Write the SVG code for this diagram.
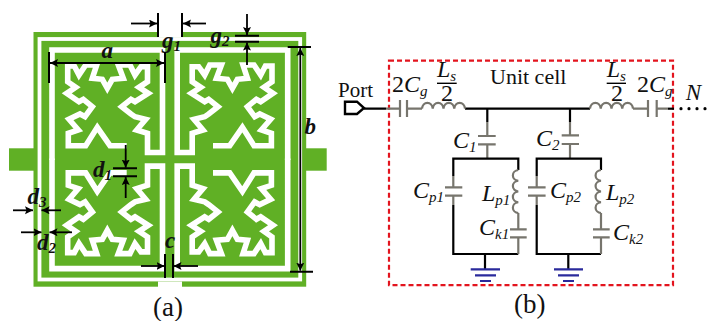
<svg xmlns="http://www.w3.org/2000/svg" xmlns:xlink="http://www.w3.org/1999/xlink" width="712" height="321" viewBox="0 0 712 321">
<style>
.t{font-family:"Liberation Serif","Times New Roman",serif;fill:#111}
.i{font-style:italic}
.bi{font-style:italic;font-weight:bold;font-size:23px;font-family:"Liberation Serif","Times New Roman",serif;fill:#111}
.s{font-size:15px}
.slot{fill:none;stroke:#fff;stroke-width:5.6;stroke-linejoin:miter}
.dim{fill:none;stroke:#000;stroke-width:2}
.arr{fill:none;stroke:#000;stroke-width:1.8;marker-end:url(#ah)}
.k{fill:none;stroke:#000;stroke-width:2.2}
.g{fill:none;stroke:#77756d;stroke-width:2.2}
.gnd{fill:none;stroke:#2a2a9c;stroke-width:2.2}
</style>
<defs>
<marker id="ah" markerUnits="userSpaceOnUse" markerWidth="9" markerHeight="9" refX="8" refY="4" orient="auto-start-reverse"><path d="M0 0L8 4L0 8L1.5 4Z" fill="#000"/></marker>
<path id="cell" class="slot" d="M126.7 145.7L110 145.7L97.3 127.3L85.7 145.7L68.3 145.7L68.3 133.3L78.3 130L69 119.3L80 114L85 116.7L92.3 106.7L83.3 99.3L79 101.7L66.7 93.3L75.7 87.3L67.7 81.7L67.7 66L74.3 66L79 75L85.7 65L96.7 65L92.3 78.3L102.3 79.3L107.3 88.3L112.3 79.3L123.3 78.3L118.3 65L130 65L135 75L141 66.7L147.5 66.7L147.5 81.7L139 87.3L148.3 93.3L135 101.7L131 99.3L121.7 106.7L131 114L135 116.7L145.7 119.3L136.7 130L147.5 133.3L147.5 152.5L162.5 152.5L162.5 50L52 50L52 160"/>
</defs>

<g id="panel-a-board">
<rect x="33.5" y="32" width="272.7" height="254.7" fill="#60b025"/>
<rect x="9" y="148.3" width="25" height="22.4" fill="#60b025"/>
<rect x="306" y="148.3" width="20.7" height="22.4" fill="#60b025"/>
<rect x="158" y="31" width="24" height="6.2" fill="#fff"/>
<rect x="158" y="281.5" width="24" height="6.2" fill="#fff"/>
<rect x="39.5" y="39" width="260.7" height="240.5" fill="none" stroke="#fff" stroke-width="3.8"/>
<use xlink:href="#cell" href="#cell"/>
<use xlink:href="#cell" href="#cell" transform="matrix(-1 0 0 1 339.7 0)"/>
<use xlink:href="#cell" href="#cell" transform="matrix(1 0 0 -1 0 318.6)"/>
<use xlink:href="#cell" href="#cell" transform="matrix(-1 0 0 -1 339.7 318.6)"/>
</g>

<g id="dimensions-a">
<path class="dim" d="M158 13V37M182 13V37"/>
<path class="arr" d="M131 23.5H157"/><path class="arr" d="M206 23.5H183"/>
<text class="bi" x="162" y="48">g<tspan class="s" dy="3">1</tspan></text>
<path class="dim" d="M235 35.7H259M235 41.7H259"/>
<path class="arr" d="M247 14V35"/><path class="arr" d="M247 65V42.5"/>
<text class="bi" x="210.5" y="43">g<tspan class="s" dy="3">2</tspan></text>
<path class="dim" d="M49 52V83M165 52V83"/>
<path class="arr" style="marker-start:url(#ah)" d="M50 63H164"/>
<text class="bi" x="101.5" y="58">a</text>
<path class="dim" d="M287.7 47H311M290 271.7H313"/>
<path class="arr" style="marker-start:url(#ah)" d="M300.3 48V270.7"/>
<text class="bi" x="304.5" y="134">b</text>
<path class="dim" d="M113 168.3H137M113 176.3H137"/>
<path class="arr" d="M125.7 145V167.6"/><path class="arr" d="M125.7 198V177"/>
<text class="bi" x="93" y="177">d<tspan class="s" dy="3">1</tspan></text>
<path class="arr" d="M13 210.3H33"/><path class="arr" d="M61 210.3H41.5"/>
<text class="bi" x="27.5" y="204">d<tspan class="s" dy="3">3</tspan></text>
<path class="arr" d="M21 232.3H41.5"/><path class="arr" d="M72 232.3H49.5"/>
<text class="bi" x="37" y="250">d<tspan class="s" dy="3">2</tspan></text>
<path class="dim" d="M165 254V278M173 254V278"/>
<path class="arr" d="M141 266H164.5"/><path class="arr" d="M198 266H173.5"/>
<text class="bi" x="165" y="247.5">c</text>
</g>
<text id="label-a" class="t" x="153" y="316" font-size="27">(a)</text>

<g id="frame"><rect x="389" y="60.7" width="284" height="224.5" fill="none" stroke="#e3141e" stroke-width="2.2" stroke-dasharray="5 3"/></g>

<g id="connectors">
<path class="k" d="M364 108.7H386M465 108.7H590M487.3 108.7V122M570 108.7V122"/>
<path class="g" d="M386 108.7H400M407 108.7H422M633 108.7H648M656.7 108.7H668"/>
<path class="k" d="M668 108.7H674"/>
<path d="M681 108.7H712" fill="none" stroke="#000" stroke-width="3.2" stroke-linecap="round" stroke-dasharray="0 8"/>
<path class="g" d="M487.3 122V136M487.3 144.3V158.7M570 122V135.3M570 144V158.7"/>
<path class="k" d="M518.3 170V158.7H453.3V176M601 170V158.7H536.7V176"/>
<path class="g" d="M453.3 176V187.3M453.3 195.7V205M536.7 176V187.3M536.7 195.7V205"/>
<path class="k" d="M453.3 205V254H518.3M536.7 205V254H601"/>
<path class="g" d="M518.3 213V229.3M518.3 237.3V254M601 213V229.3M601 237.3V254"/>
<path class="k" d="M485 254V269M568.3 254V269"/>
</g>

<g id="port"><path d="M345 101.7H357L364 108L357 114H345Z" fill="#fff" stroke="#000" stroke-width="2.4"/>
<text class="t" x="338" y="96.7" font-size="21">Port</text></g>

<g id="cg-left"><path class="g" d="M400 100V117M407 100V117"/>
<text class="t" x="392" y="91.7" font-size="24">2<tspan class="i">C</tspan><tspan class="i s" dy="4">g</tspan></text></g>
<g id="ls-left"><path class="g" d="M422 108.7a5.4 6.5 0 0 1 10.75 0a5.4 6.5 0 0 1 10.75 0a5.4 6.5 0 0 1 10.75 0a5.4 6.5 0 0 1 10.75 0"/>
<text class="t i" x="437" y="77" font-size="24">L<tspan class="s" dy="4">s</tspan></text>
<path d="M437 83.3H456.7" stroke="#000" stroke-width="1.4"/>
<text class="t" x="441" y="100.5" font-size="24">2</text></g>
<text id="unit-cell" class="t" x="490" y="84.3" font-size="22">Unit cell</text>
<g id="ls-right"><path class="g" d="M590 108.7a5.4 6.5 0 0 1 10.75 0a5.4 6.5 0 0 1 10.75 0a5.4 6.5 0 0 1 10.75 0a5.4 6.5 0 0 1 10.75 0"/>
<text class="t i" x="606.7" y="77" font-size="24">L<tspan class="s" dy="4">s</tspan></text>
<path d="M606.7 83.3H626" stroke="#000" stroke-width="1.4"/>
<text class="t" x="611" y="100.5" font-size="24">2</text></g>
<g id="cg-right"><path class="g" d="M648 100V117M656.7 100V117"/>
<text class="t" x="637" y="91.7" font-size="24">2<tspan class="i">C</tspan><tspan class="i s" dy="4">g</tspan></text></g>
<text id="n" class="t i" x="685.7" y="100" font-size="23">N</text>

<g id="c1"><path class="g" d="M478 136H495.7M478 144.3H495.7"/><text class="t i" x="453" y="147.7" font-size="24">C<tspan class="s" dy="4">1</tspan></text></g>
<g id="c2"><path class="g" d="M561.7 135.3H579M561.7 144H579"/><text class="t i" x="536" y="146" font-size="24">C<tspan class="s" dy="4">2</tspan></text></g>
<g id="cp1"><path class="g" d="M445 187.3H462.3M445 195.7H462.3"/><text class="t i" x="413" y="198" font-size="24">C<tspan class="s" dy="4">p1</tspan></text></g>
<g id="lp1"><path class="g" d="M518.3 170a6 5.4 0 0 0 0 10.75a6 5.4 0 0 0 0 10.75a6 5.4 0 0 0 0 10.75a6 5.4 0 0 0 0 10.75"/><text class="t i" x="482" y="200.7" font-size="24">L<tspan class="s" dy="4">p1</tspan></text></g>
<g id="ck1"><path class="g" d="M510 229.3H526.7M510 237.3H526.7"/><text class="t i" x="479" y="235" font-size="24">C<tspan class="s" dy="4">k1</tspan></text></g>
<g id="cp2"><path class="g" d="M528 187.3H545.6M528 195.7H545.6"/><text class="t i" x="550" y="198" font-size="24">C<tspan class="s" dy="4">p2</tspan></text></g>
<g id="lp2"><path class="g" d="M601 170a6 5.4 0 0 0 0 10.75a6 5.4 0 0 0 0 10.75a6 5.4 0 0 0 0 10.75a6 5.4 0 0 0 0 10.75"/><text class="t i" x="606" y="200" font-size="24">L<tspan class="s" dy="4">p2</tspan></text></g>
<g id="ck2"><path class="g" d="M593 229.3H609.7M593 237.3H609.7"/><text class="t i" x="613" y="240" font-size="24">C<tspan class="s" dy="4">k2</tspan></text></g>
<g id="gnd1"><path class="gnd" d="M470.7 269.3H500M475 275.3H496M480 281H491"/></g>
<g id="gnd2"><path class="gnd" d="M554 269.3H583M558 275.3H579M563 281H574"/></g>
<text id="label-b" class="t" x="514" y="313" font-size="27">(b)</text>
</svg>
